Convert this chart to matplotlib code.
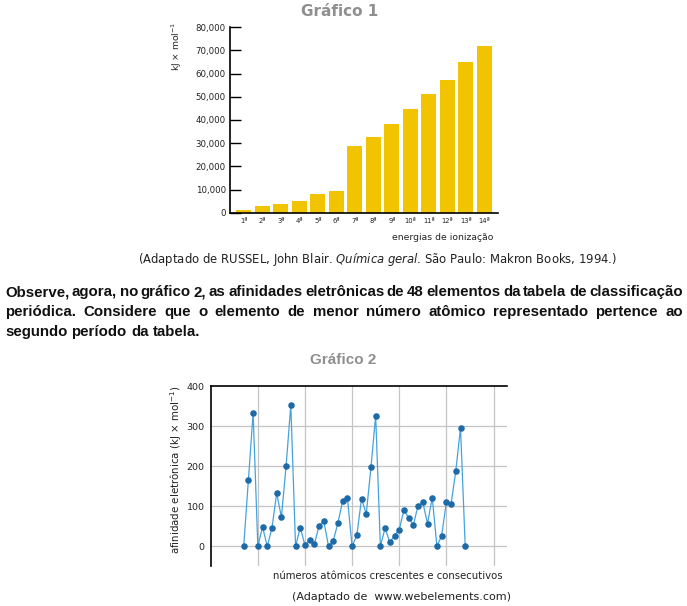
import matplotlib
matplotlib.use("Agg")
import matplotlib.pyplot as plt

# ---------------- data ----------------
ordinais = ["1ª", "2ª", "3ª", "4ª", "5ª", "6ª", "7ª", "8ª", "9ª", "10ª", "11ª", "12ª", "13ª", "14ª"]
energias = [1150, 2900, 3700, 5000, 8060, 9350, 28800, 32700, 38300, 44700, 51200, 57300, 65000, 71900]
y1_ticks = [0, 10000, 20000, 30000, 40000, 50000, 60000, 70000, 80000]
y1_labels = ["0", "10,000", "20,000", "30,000", "40,000", "50,000", "60,000", "70,000", "80,000"]

numeros_atomicos = list(range(7, 55))
afinidades = [0, 166, 333, 0, 49, 0, 46, 133, 73, 201, 353, 0, 47, 3, 17, 6, 52, 63, 0, 14,
              59, 114, 121, 0, 28, 119, 81, 197, 326, 0, 46, 10, 27, 42, 91, 71, 54, 102,
              110, 57, 122, 0, 27, 110, 106, 188, 296, 0]
y2_ticks = [0, 100, 200, 300, 400]
x2_grid = [10, 20, 30, 40, 50, 60]

# ---------------- fonts ----------------
plt.rcParams["font.family"] = ["DejaVu Sans"]
PARA_FONT = "Liberation Sans"

W, H = 687, 606
fig = plt.figure(figsize=(W / 100, H / 100), dpi=100)
fig.patch.set_facecolor("white")

def px(x, y):
    return x / W, 1 - y / H

def ax_rect(l, t, r, b):
    return [l / W, 1 - b / H, (r - l) / W, (b - t) / H]

TXT = "#222222"
GRAY_TITLE = "#8f8f8f"

# ---------------- Gráfico 1 ----------------
ax1 = fig.add_axes(ax_rect(230, 27.3, 498.3, 212.7))
xs = list(range(len(energias)))
ax1.bar(xs, energias, width=0.81, color="#f2c400", edgecolor="none")
ax1.set_xlim(-0.74, 13.75)
ax1.set_ylim(0, 80000)
ax1.set_yticks(y1_ticks)
ax1.set_yticklabels(y1_labels, fontsize=6.2, color=TXT)
ax1.set_xticks(xs)
ax1.set_xticklabels(ordinais, fontsize=4.9, color=TXT)
ax1.tick_params(axis="y", direction="in", length=8, width=1, pad=3)
ax1.tick_params(axis="x", length=0, pad=4)
for s in ["top", "right"]:
    ax1.spines[s].set_visible(False)
for s in ["left", "bottom"]:
    ax1.spines[s].set_linewidth(1.2)
    ax1.spines[s].set_color("black")

fig.text(*px(340, 12), "Gráfico 1", ha="center", va="center", fontsize=11,
         fontweight="bold", color=GRAY_TITLE)
fig.text(*px(177, 46), "kJ × mol$^{-1}$", rotation=90, ha="center", va="center",
         fontsize=6.6, color=TXT)
fig.text(*px(443, 238), "energias de ionização", ha="center", va="center",
         fontsize=6.7, color=TXT)
fig.text(*px(378, 259),
         "(Adaptado de RUSSEL, John Blair. $\\it{Química\\ geral}$. São Paulo: Makron Books, 1994.)",
         ha="center", va="center", fontsize=8.35, color=TXT)

# ---------------- paragraph (justified) ----------------
lines = [
    ("Observe, agora, no gráfico 2, as afinidades eletrônicas de 48 elementos da tabela de classificação", True, 292),
    ("periódica. Considere que o elemento de menor número atômico representado pertence ao", True, 312),
    ("segundo período da tabela.", False, 332),
]
PFS = 10.8
renderer = fig.canvas.get_renderer()
x_left, x_right = 5, 683
tmp1 = fig.text(0, 0, "a a", fontsize=PFS, fontweight="bold", family=PARA_FONT)
tmp2 = fig.text(0, 0, "aa", fontsize=PFS, fontweight="bold", family=PARA_FONT)
space_px = tmp1.get_window_extent(renderer).width - tmp2.get_window_extent(renderer).width
tmp1.remove(); tmp2.remove()
for text, justify, ypos in lines:
    words = text.split(" ")
    objs = [fig.text(*px(x_left, ypos), w, ha="left", va="center", fontsize=PFS,
                     fontweight="bold", color="#111111", family=PARA_FONT) for w in words]
    widths = [o.get_window_extent(renderer).width for o in objs]
    if justify and len(words) > 1:
        gap = (x_right - x_left - sum(widths)) / (len(words) - 1)
    else:
        gap = space_px
    x = x_left
    for o, w in zip(objs, widths):
        o.set_position(px(x, ypos))
        x += w + gap

# ---------------- Gráfico 2 ----------------
ax2 = fig.add_axes(ax_rect(210.7, 386, 506.7, 565.7))
ax2.set_xlim(0, 62.8)
ax2.set_ylim(-48, 400)
for gx in x2_grid:
    ax2.axvline(gx, color="#c4c4c4", lw=0.9, zorder=0)
for gy in y2_ticks[:-1]:
    ax2.axhline(gy, color="#c4c4c4", lw=0.9, zorder=0)
ax2.plot(numeros_atomicos, afinidades, color="#45a2de", lw=0.9, zorder=2)
ax2.plot(numeros_atomicos, afinidades, "o", color="#1c6aa8", ms=3.7, zorder=3)
ax2.set_yticks(y2_ticks)
ax2.set_yticklabels([str(v) for v in y2_ticks], fontsize=6.8, color=TXT)
ax2.set_xticks([])
ax2.tick_params(axis="y", length=0, pad=4.5)
for s in ["bottom", "right"]:
    ax2.spines[s].set_visible(False)
for s in ["left", "top"]:
    ax2.spines[s].set_linewidth(1.2)
    ax2.spines[s].set_color("black")

fig.text(*px(343, 360), "Gráfico 2", ha="center", va="center", fontsize=11,
         fontweight="bold", color=GRAY_TITLE, family=PARA_FONT)
fig.text(*px(176, 470), "afinidade eletrônica (kJ × mol$^{-1}$)", rotation=90,
         ha="center", va="center", fontsize=7.4, color=TXT)
fig.text(*px(388, 576), "números atômicos crescentes e consecutivos", ha="center",
         va="center", fontsize=7.3, color=TXT)
fig.text(*px(402, 597), "(Adaptado de  www.webelements.com)", ha="center", va="center",
         fontsize=8.0, color=TXT)

fig.savefig("out.png", dpi=100)
